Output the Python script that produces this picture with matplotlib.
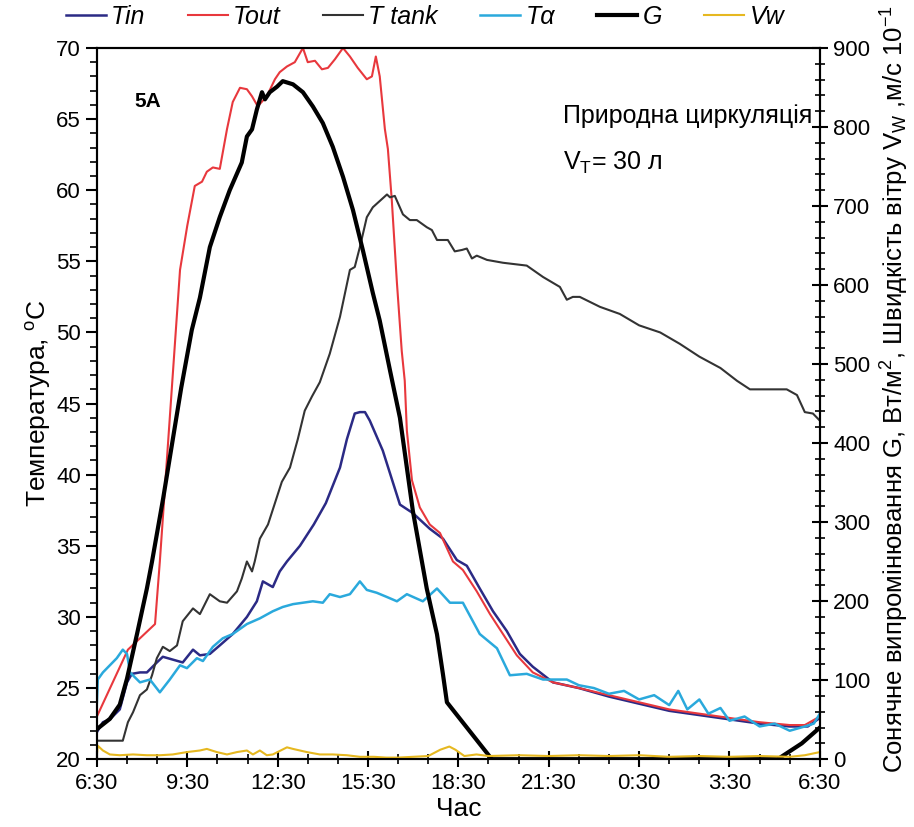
import numpy as np
import matplotlib
matplotlib.use("Agg")
import matplotlib.pyplot as plt
from matplotlib.ticker import MultipleLocator

plt.rcParams['font.family'] = ['Liberation Sans', 'DejaVu Sans']
plt.rcParams['mathtext.fontset'] = 'custom'
plt.rcParams['mathtext.rm'] = 'Liberation Sans'
plt.rcParams['mathtext.it'] = 'Liberation Sans:italic'

# hours since 6:30
tick_labels = ['6:30', '9:30', '12:30', '15:30', '18:30', '21:30', '0:30', '3:30', '6:30']

tout_h = [0, 1.03, 1.93, 2.09, 2.76, 3.0, 3.25, 3.49, 3.65, 3.85, 4.08, 4.32, 4.51, 4.75, 4.98, 5.15, 5.34,
          5.64, 5.91, 6.07, 6.31, 6.57, 6.84, 7.0, 7.24, 7.47, 7.67, 7.9, 8.17, 8.4, 8.66, 8.96, 9.13, 9.26,
          9.39, 9.56, 9.66, 9.79, 9.96, 10.12, 10.22, 10.29, 10.46, 10.72, 11.05, 11.39, 11.82, 12.15, 12.61,
          13.05, 13.48, 13.94, 14.47, 15.14, 16, 17, 18, 19, 20, 21, 22, 23, 23.5, 24]
tout_t = [23.0, 27.7, 29.5, 33.9, 54.4, 57.5, 60.3, 60.6, 61.3, 61.6, 61.5, 64.3, 66.2, 67.2, 67.1, 66.6, 65.9,
          66.6, 67.8, 68.3, 68.7, 69.0, 70.0, 69.0, 69.1, 68.5, 68.6, 69.2, 70.0, 69.4, 68.6, 67.8, 68.0, 69.4,
          68.0, 64.3, 62.9, 59.3, 53.5, 48.7, 46.6, 43.1, 39.6, 37.7, 36.5, 35.9, 33.9, 33.3, 31.8,
          30.2, 28.8, 27.3, 26.1, 25.4, 25.0, 24.5, 24.0, 23.5, 23.2, 22.9, 22.6, 22.4, 22.4, 23.0]

tin_h = [0, 0.2, 0.43, 0.76, 1.0, 1.16, 1.43, 1.66, 1.99, 2.19, 2.52, 2.85, 3.19, 3.42, 3.75, 4.08, 4.51, 4.98,
         5.31, 5.51, 5.84, 6.07, 6.31, 6.74, 7.2, 7.6, 8.07, 8.3, 8.56, 8.73, 8.9, 9.06, 9.49, 10.06, 10.49,
         11.05, 11.49, 11.95, 12.28, 12.71, 13.15, 13.61, 14.04, 14.47, 15.14, 16, 17, 18, 19, 20, 21, 22, 23,
         23.6, 24]
tin_t = [21.9, 22.6, 22.8, 23.5, 25.4, 26.0, 26.1, 26.1, 26.8, 27.2, 27.0, 26.8, 27.7, 27.3, 27.4, 28.0, 28.8, 30.0,
         31.1, 32.5, 32.1, 33.2, 33.9, 35.0, 36.5, 38.0, 40.5, 42.5, 44.3, 44.4, 44.4, 43.8, 41.7, 37.9, 37.3,
         36.2, 35.5, 34.0, 33.6, 32.0, 30.4, 29.0, 27.4, 26.5, 25.4, 25.0, 24.4, 23.9, 23.4, 23.1, 22.8, 22.5, 22.3,
         22.3, 22.9]

tank_h = [0, 0.86, 1.03, 1.2, 1.43, 1.66, 1.83, 1.99, 2.19, 2.42, 2.66, 2.85, 3.19, 3.42, 3.75, 4.08, 4.32, 4.65,
          4.81, 4.98, 5.15, 5.24, 5.41, 5.68, 5.91, 6.14, 6.41, 6.67, 6.9, 7.14, 7.4, 7.73, 8.07, 8.4, 8.56, 8.73,
          8.96, 9.16, 9.63, 9.73, 9.89, 10.16, 10.39, 10.62, 10.95, 11.12, 11.29, 11.49, 11.65, 11.88, 12.12,
          12.28, 12.45, 12.61, 12.95, 13.48, 14.27, 14.81, 15.37, 15.6, 15.8, 16.03, 16.7, 17.36, 18.0, 18.7,
          19.35, 20.0, 20.7, 21.25, 21.68, 22.9, 23.24, 23.5, 23.77, 24]
tank_t = [21.3, 21.3, 22.6, 23.3, 24.5, 24.9, 25.9, 27.1, 27.9, 27.6, 28.0, 29.7, 30.6, 30.2, 31.6, 31.1, 31.0, 31.8,
          32.7, 33.9, 33.2, 33.9, 35.5, 36.5, 38.0, 39.5, 40.5, 42.5, 44.5, 45.5, 46.5, 48.5, 51.1, 54.4, 54.6, 56.0,
          58.1, 58.8, 59.7, 59.5, 59.6, 58.3, 57.9, 57.9, 57.4, 57.2, 56.5, 56.5, 56.5, 55.7, 55.8,
          55.9, 55.2, 55.4, 55.1, 54.9, 54.7, 53.9, 53.2, 52.3, 52.5, 52.5, 51.8, 51.3, 50.5, 50.0,
          49.2, 48.3, 47.5, 46.6, 46.0, 46.0, 45.6, 44.4, 44.3, 43.8]

ta_h = [0, 0.03, 0.2, 0.43, 0.66, 0.86, 1.0, 1.1, 1.43, 1.76, 2.09, 2.42, 2.76, 2.99, 3.32, 3.52, 3.85, 4.18, 4.51,
        4.98, 5.41, 5.84, 6.17, 6.51, 6.84, 7.17, 7.5, 7.73, 8.07, 8.4, 8.73, 8.96, 9.29, 9.63, 9.96, 10.29,
        10.82, 11.29, 11.72, 12.15, 12.71, 13.28, 13.71, 14.27, 14.81, 15.6, 16.0, 16.5, 17.0, 17.5, 18.0, 18.5,
        19.0, 19.3, 19.6, 20.0, 20.3, 20.7, 21.0, 21.5, 22.0, 22.5, 23.0, 23.5, 23.8, 24]
ta_t = [24.0, 25.6, 26.1, 26.6, 27.1, 27.7, 27.4, 26.1, 25.4, 25.6, 24.7, 25.6, 26.6, 26.4, 27.1, 26.9, 27.9, 28.5, 28.8,
        29.5, 29.9, 30.4, 30.7, 30.9, 31.0, 31.1, 31.0, 31.6, 31.4, 31.6, 32.5, 31.9, 31.7, 31.4, 31.1, 31.6,
        31.1, 32.0, 31.0, 31.0, 28.8, 27.8, 25.9, 26.0, 25.6, 25.6, 25.2, 25.0, 24.6, 24.8, 24.2, 24.5,
        23.8, 24.8, 23.5, 24.2, 23.2, 23.6, 22.7, 23.0, 22.3, 22.5, 22.0, 22.3, 22.5, 23.2]

g_h = [0, 0.43, 0.76, 1.0, 1.33, 1.66, 1.83, 2.2, 2.5, 2.8, 3.15, 3.42, 3.75, 4.08, 4.41, 4.81, 4.98, 5.15, 5.31,
       5.48, 5.58, 5.74, 5.98, 6.17, 6.51, 6.84, 7.17, 7.5, 7.83, 8.17, 8.5, 8.83, 9.16, 9.39, 9.73, 10.06,
       10.49, 10.95, 11.29, 11.49, 11.62, 13.11, 22.6, 23.4, 24]
g_val = [38, 51, 69, 102, 158, 216, 250, 330, 400, 470, 543, 584, 648, 686, 720, 755, 788, 797, 822,
         844, 835, 844, 851, 858, 854, 844, 826, 805, 775, 737, 695, 644, 590, 555, 492, 432,
         314, 216, 158, 107, 72, 0, 0, 20, 40]

vw_h = [0, 0.03, 0.2, 0.43, 0.76, 1.2, 1.66, 2.09, 2.52, 2.99, 3.42, 3.65, 3.98, 4.32, 4.65, 4.98, 5.18, 5.41,
        5.64, 5.84, 6.31, 6.51, 6.97, 7.4, 7.83, 8.3, 8.73, 9.2, 9.6, 10.0, 10.5, 11.0, 11.4, 11.7, 11.9, 12.2,
        12.6, 13, 14, 15, 16, 17, 18, 19, 20, 21, 22, 23, 23.5, 24]
vw_val = [6, 17, 11, 6, 5, 6, 5, 5, 6, 9, 11, 13, 9, 6, 9, 11, 6, 11,
          5, 6, 15, 13, 9, 6, 6, 5, 3, 3, 2, 2, 3, 4, 12, 16, 12, 4,
          6, 4, 5, 4, 5, 4, 5, 3, 4, 3, 4, 3, 5, 9]

fig = plt.figure(figsize=(9.14, 8.27), dpi=100)
ax = fig.add_axes([0.106, 0.082, 0.791, 0.860])
ax2 = ax.twinx()

l1, = ax.plot(tin_h, tin_t, color='#2b2a85', lw=1.8, label='Tin')
l2, = ax.plot(tout_h, tout_t, color='#e8383d', lw=1.5, label='Tout')
l3, = ax.plot(tank_h, tank_t, color='#333333', lw=1.5, label='T tank')
l4, = ax.plot(ta_h, ta_t, color='#2aa9dc', lw=1.8, label='Tα')
l5, = ax2.plot(g_h, g_val, color='black', lw=3.0, label='G')
l6, = ax2.plot(vw_h, vw_val, color='#e6b820', lw=1.5, label='Vw')

ax.set_xlim(0, 24)
ax.set_ylim(20, 70)
ax2.set_ylim(0, 900)

ax.set_xticks(np.arange(0, 25, 3))
ax.set_xticklabels(tick_labels)
ax.xaxis.set_minor_locator(MultipleLocator(1))
ax.yaxis.set_major_locator(MultipleLocator(5))
ax.yaxis.set_minor_locator(MultipleLocator(1))
ax2.yaxis.set_major_locator(MultipleLocator(100))
ax2.yaxis.set_minor_locator(MultipleLocator(20))

ax.tick_params(axis='x', which='major', direction='inout', length=12, width=1.5, labelsize=16, pad=4)
ax.tick_params(axis='x', which='minor', direction='inout', length=7, width=1.2)
ax.tick_params(axis='y', which='major', direction='out', length=8, width=1.5, labelsize=16)
ax.tick_params(axis='y', which='minor', direction='out', length=5, width=1.2)
ax2.tick_params(axis='y', which='major', direction='inout', length=12, width=1.5, labelsize=16)
ax2.tick_params(axis='y', which='minor', direction='inout', length=7, width=1.2)

for a in (ax, ax2):
    for s in a.spines.values():
        s.set_linewidth(1.5)

ax.set_xlabel('Час', fontsize=19, labelpad=2)
ax.set_ylabel('Температура, $^\\mathrm{o}$C', fontsize=19, labelpad=2)
ax2.set_ylabel('Сонячне випромінювання G, Вт/м$^2$, Швидкість вітру V$_\\mathrm{W}$ ,м/с 10$^{-1}$',
               fontsize=18.5, labelpad=6, y=0.52,
               family=['Liberation Sans Narrow', 'Liberation Sans', 'DejaVu Sans'])

ax.text(0.052, 0.938, '5A', transform=ax.transAxes, fontsize=15, fontweight='bold', va='top')
ax.text(0.645, 0.905, 'Природна циркуляція', transform=ax.transAxes, fontsize=18, va='center')
ax.text(0.645, 0.838, 'V$_\\mathrm{T}$= 30 л', transform=ax.transAxes, fontsize=18, va='center')

leg = ax.legend(handles=[l1, l2, l3, l4, l5, l6], loc='lower center', bbox_to_anchor=(0.454, 0.995),
                ncol=6, frameon=False, handlelength=1.6, handletextpad=0.2, columnspacing=1.7,
                prop={'family': ['Liberation Sans Narrow', 'Liberation Sans', 'DejaVu Sans'],
                      'style': 'italic', 'size': 18})

fig.savefig('out.png', dpi=100)
